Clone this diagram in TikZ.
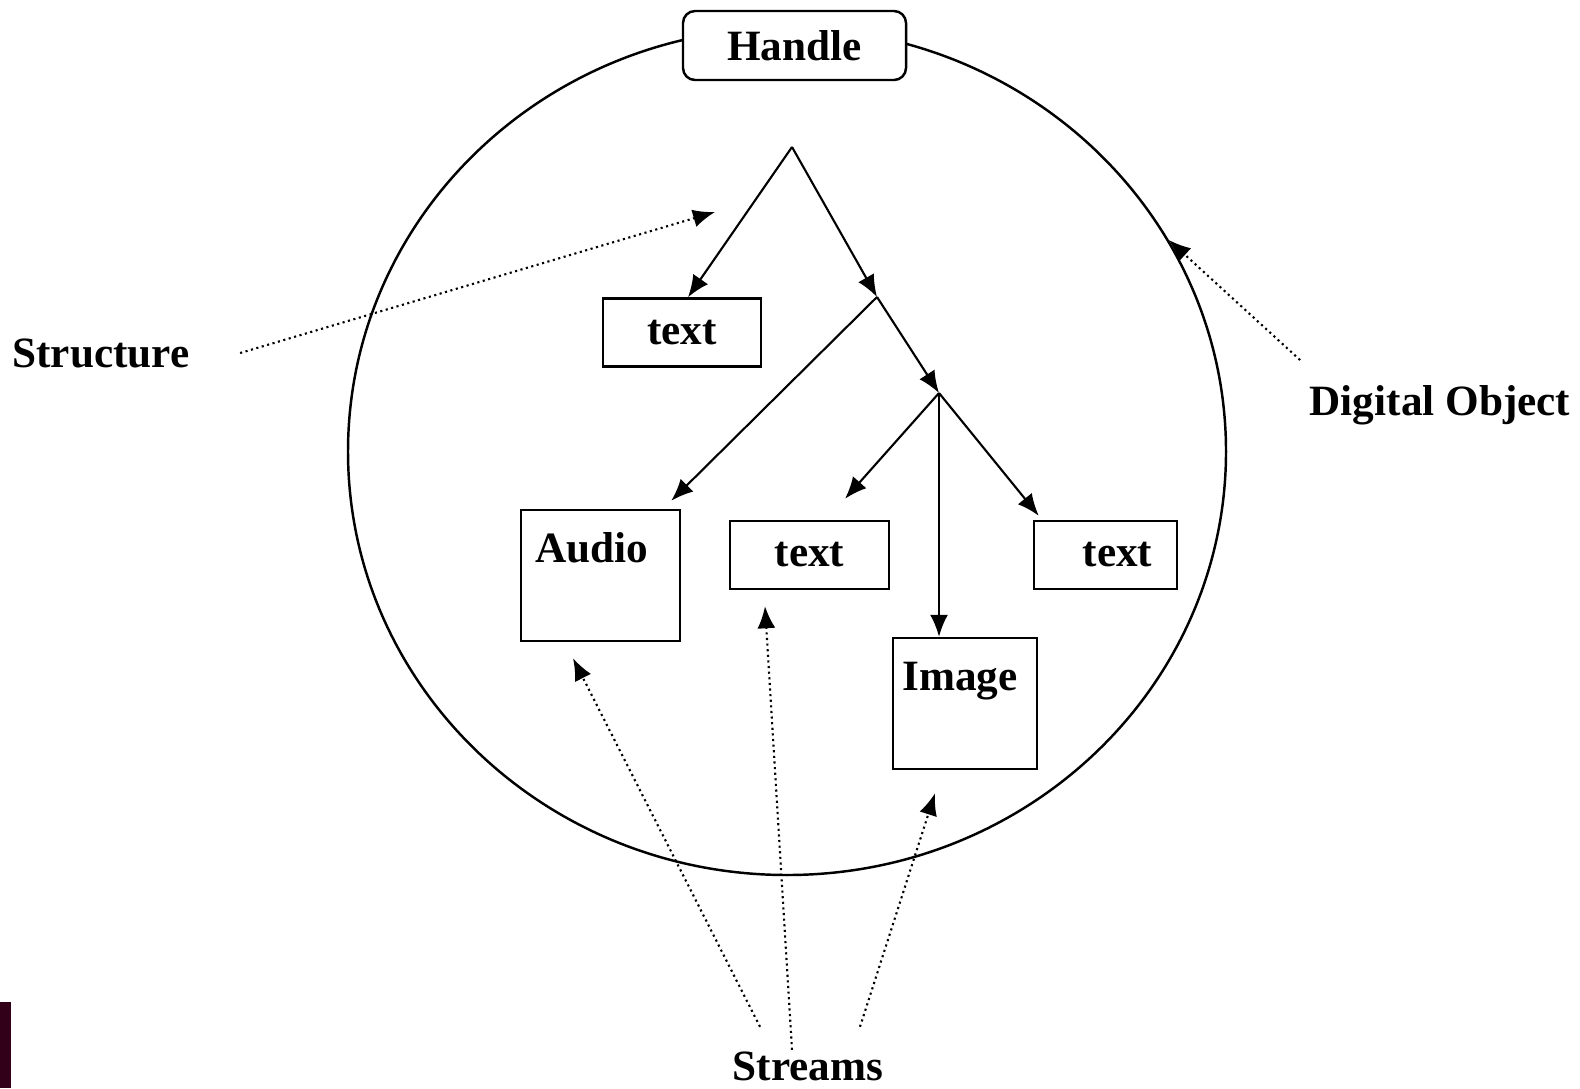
\documentclass[tikz,border=0pt]{standalone}
\usepackage{fontspec}
\setmainfont{Liberation Serif}
\usetikzlibrary{positioning,shapes.geometric,arrows.meta}
\tikzset{>={Latex[length=2.2mm,width=1.8mm]}}
\tikzset{
  lbl/.style={font=\fontsize{12.3}{14}\selectfont\bfseries, inner sep=0pt},
  box/.style={draw, rectangle, line width=0.7pt, minimum height=0.68cm, lbl},
  link/.style={->, line width=0.6pt},
  hint/.style={->, densely dotted, line width=0.6pt}
}
\definecolor{sidebar}{HTML}{33001A}
\begin{document}
\begin{tikzpicture}
      \useasboundingbox (0,0) rectangle (15.8,-10.88);
      \fill[sidebar] (0,-10.02) rectangle (0.11,-10.88);
      \node[draw, ellipse, line width=0.7pt, minimum width=8.78cm, minimum height=8.47cm, inner sep=0pt] (n0) at (7.87,-4.515) {};
      \node[box, rounded corners=1.2mm, fill=white, minimum width=2.23cm, minimum height=0.69cm] (n1) at (7.945,-0.455) {Handle};
      \coordinate (aux1) at (7.92,-1.47);
      \coordinate (aux2) at (8.77,-2.97);
      \coordinate (aux3) at (9.39,-3.93);
      \node[box, minimum width=1.58cm] (n2) at (6.82,-3.325) {text};
      \node[box, minimum width=1.59cm, minimum height=1.31cm, label={[lbl, anchor=north, xshift=-0.9mm, yshift=-2.3mm]north:Audio}] (n3) at (6.005,-5.755) {};
      \node[box, minimum width=1.59cm] (n4) at (8.095,-5.55) {text};
      \node[box, minimum width=1.44cm, minimum height=1.31cm, label={[lbl, anchor=north, xshift=-0.5mm, yshift=-2.5mm]north:Image}] (n5) at (9.65,-7.035) {};
      \node[box, minimum width=1.43cm, label={[lbl, xshift=1.2mm]center:text}] (n6) at (11.055,-5.55) {};
      \node[lbl] (n7) at (1.01,-3.53) {Structure};
      \node[lbl] (n8) at (14.40,-4.05) {Digital Object};
      \node[lbl] (n9) at (8.08,-10.66) {Streams};
      \draw[link] (aux1) -- ([xshift=0.6mm]n2.north);
      \draw[link] (aux1) -- (aux2);
      \draw[link] (aux2) -- ([shift={(-0.1,0.08)}]n3.north east);
      \draw[link] (aux2) -- (aux3);
      \draw[link] (aux3) -- ([shift={(0.355,0.21)}]n4.north);
      \draw[link] (aux3) -- (aux3 |- n5.north);
      \draw[link] (aux3) -- ([shift={(0.06,0.04)}]n6.north west);
      \coordinate (aux4) at (7.15,-2.12);
      \draw[hint] ([xshift=5mm]n7.east) -- (aux4);
      \draw[hint] ([shift={(-0.09,0.45)}]n8.west) -- (n0.29);
      \draw[hint] ([shift={(-0.48,0.24)}]n9.north) -- ([shift={(-0.275,-0.16)}]n3.south);
      \draw[hint] ([shift={(-0.16,0.01)}]n9.north) -- ([shift={(-0.445,-0.16)}]n4.south);
      \draw[hint] ([shift={(0.52,0.24)}]n9.north) -- ([shift={(-0.30,-0.23)}]n5.south);
\end{tikzpicture}
\end{document}
